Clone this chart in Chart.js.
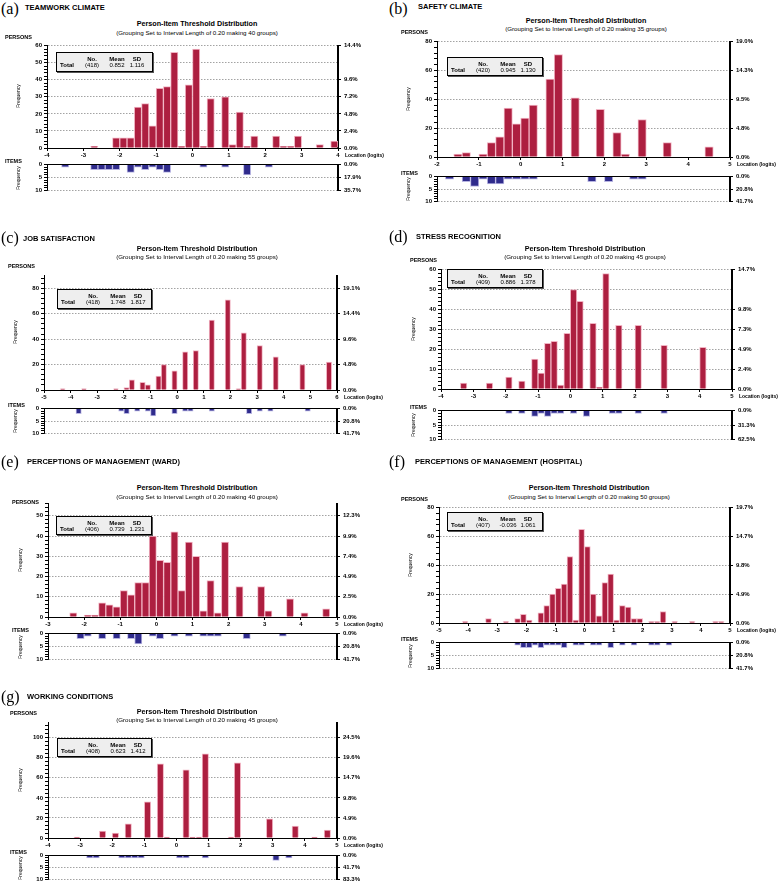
<!DOCTYPE html>
<html>
<head>
<meta charset="utf-8">
<script src="https://cdn.jsdelivr.net/npm/chart.js@4.4.1/dist/chart.umd.min.js"></script>
<style>
  body { margin: 0; background: #fff; }
  #fig { position: relative; width: 778px; height: 885px; overflow: hidden; font-family: "Liberation Sans", Arial, sans-serif; color: #000; }
  #fig canvas { position: absolute; }
  .t { position: absolute; white-space: nowrap; line-height: 1; }
  .tag { font-family: "Liberation Serif", serif; font-size: 16px; }
  .name { font-weight: bold; font-size: 7.5px; }
  .ttl { font-weight: bold; font-size: 7.2px; }
  .sub { font-size: 6.2px; }
  .lab { font-weight: bold; font-size: 5.5px; }
  .freq { font-size: 5px; }
  .loc { font-weight: bold; font-size: 5px; }
  .stat { position: absolute; border: 1px solid #000; background: #eeeeee; box-shadow: 1px 1px 0 #555; box-sizing: border-box; }
  .sh { font-weight: bold; font-size: 6px; }
  .sv { font-size: 6px; }
</style>
</head>
<body>
<div id="fig"></div>
<script>
// --- Data: bin centres (logits, 0.20 wide) and counts ---
const teamworkBins = [-2.7, -2.1, -1.9, -1.7, -1.5, -1.3, -1.1, -0.9, -0.7, -0.5, -0.3, -0.1, 0.1, 0.3, 0.5, 0.9, 1.1, 1.3, 1.5, 1.7, 2.3, 2.5, 2.7, 2.9, 3.5, 3.9];
const teamworkPersons = [1, 6, 6, 6, 24, 26, 13, 35, 36, 56, 1, 37, 58, 1, 29, 30, 2, 21, 1, 7, 7, 1, 1, 7, 2, 4];
const teamworkItemBins = [-3.5, -2.7, -2.5, -2.3, -2.1, -1.7, -1.5, -1.3, -1.1, -0.9, -0.7, 0.3, 0.9, 1.5, 2.1];
const teamworkItems = [1, 2, 2, 2, 2, 3, 1, 2, 1, 2, 3, 1, 1, 4, 1];

const safetyBins = [-1.5, -1.3, -0.9, -0.7, -0.5, -0.3, -0.1, 0.1, 0.3, 0.7, 0.9, 1.3, 1.9, 2.3, 2.5, 2.9, 3.5, 4.5];
const safetyPersons = [2, 3, 2, 10, 14, 34, 23, 27, 36, 54, 71, 41, 33, 17, 2, 26, 10, 7];
const safetyItemBins = [-1.7, -1.3, -1.1, -0.9, -0.7, -0.5, -0.3, -0.1, 0.1, 0.3, 1.7, 2.1, 2.7, 2.9];
const safetyItems = [1, 2, 4, 1, 3, 3, 1, 1, 1, 1, 2, 2, 1, 1];

const jobBins = [-4.3, -3.5, -2.3, -1.9, -1.7, -1.3, -1.1, -0.7, -0.5, -0.1, 0.3, 0.7, 1.3, 1.9, 2.3, 2.5, 3.1, 3.7, 4.7, 5.7];
const jobPersons = [1, 1, 1, 2, 8, 6, 4, 11, 20, 15, 30, 31, 55, 71, 1, 45, 35, 26, 20, 22];
const jobItemBins = [-3.7, -2.1, -1.9, -1.5, -1.1, -0.9, -0.1, 0.3, 0.5, 1.3, 2.7, 3.1, 3.5, 4.9];
const jobItems = [2, 1, 2, 1, 1, 3, 2, 1, 1, 1, 2, 1, 1, 1];

const stressBins = [-3.3, -2.5, -1.9, -1.5, -1.1, -0.9, -0.7, -0.5, -0.3, -0.1, 0.1, 0.3, 0.7, 0.9, 1.1, 1.5, 2.1, 2.9, 4.1];
const stressPersons = [3, 3, 6, 4, 15, 8, 23, 24, 2, 28, 50, 44, 33, 1, 58, 32, 32, 22, 21];
const stressItemBins = [-1.9, -1.5, -1.1, -0.9, -0.7, -0.5, -0.3, 0.1, 0.5, 1.3, 1.5, 2.1, 2.9];
const stressItems = [1, 1, 2, 1, 2, 1, 1, 1, 2, 1, 1, 1, 1];

const wardBins = [-2.3, -1.9, -1.7, -1.5, -1.3, -1.1, -0.9, -0.7, -0.5, -0.3, -0.1, 0.1, 0.3, 0.5, 0.7, 0.9, 1.1, 1.3, 1.5, 1.7, 1.9, 2.3, 2.9, 3.1, 3.7, 4.1, 4.7];
const wardPersons = [2, 1, 1, 7, 6, 5, 13, 11, 17, 17, 40, 28, 27, 42, 13, 37, 30, 3, 18, 2, 37, 15, 15, 3, 9, 2, 4];
const wardItemBins = [-2.1, -1.9, -1.5, -1.1, -0.7, -0.5, -0.1, 0.1, 0.5, 0.9, 1.3, 1.5, 1.7, 2.5, 3.5];
const wardItems = [2, 1, 2, 2, 2, 4, 1, 2, 1, 1, 1, 1, 1, 2, 1];

const hospitalBins = [-4.1, -3.3, -2.7, -2.3, -2.1, -1.9, -1.5, -1.3, -1.1, -0.9, -0.7, -0.5, -0.3, -0.1, 0.1, 0.3, 0.5, 0.7, 0.9, 1.1, 1.3, 1.5, 1.7, 1.9, 2.3, 2.5, 2.7, 3.1, 3.7, 4.5, 4.7];
const hospitalPersons = [1, 3, 1, 3, 6, 2, 7, 12, 20, 24, 27, 46, 2, 65, 53, 20, 5, 28, 34, 2, 12, 11, 3, 3, 1, 1, 8, 1, 1, 1, 1];
const hospitalItemBins = [-2.3, -2.1, -1.9, -1.7, -1.5, -1.3, -1.1, -0.9, -0.7, -0.3, -0.1, 0.3, 0.5, 0.9, 1.3, 1.7, 2.3, 2.5, 2.9];
const hospitalItems = [1, 2, 2, 1, 2, 1, 1, 1, 2, 1, 1, 1, 1, 2, 1, 1, 1, 1, 1];

const conditionsBins = [-3.1, -2.3, -1.9, -1.5, -0.9, -0.5, -0.3, 0.3, 0.5, 0.7, 0.9, 1.7, 1.9, 2.9, 3.7, 4.3, 4.7];
const conditionsPersons = [1, 7, 5, 14, 36, 74, 1, 68, 1, 1, 84, 1, 75, 19, 12, 1, 8];
const conditionsItemBins = [-2.7, -2.5, -1.7, -1.5, -1.3, -1.1, 0.1, 0.3, 0.9, 3.1, 3.5];
const conditionsItems = [1, 1, 1, 1, 1, 1, 1, 1, 1, 2, 1];

// --- Labels and axes ---
const panelTags = ['(a)', '(b)', '(c)', '(d)', '(e)', '(f)', '(g)'];
const panelNames = ['TEAMWORK CLIMATE', 'SAFETY CLIMATE', 'JOB SATISFACTION', 'STRESS RECOGNITION',
  'PERCEPTIONS OF MANAGEMENT (WARD)', 'PERCEPTIONS OF MANAGEMENT (HOSPITAL)', 'WORKING CONDITIONS'];
const groupCounts = [40, 35, 55, 45, 40, 50, 45];
const totalN = ['(418)', '(420)', '(418)', '(409)', '(406)', '(407)', '(408)'];
const means = ['0.852', '0.945', '1.748', '0.886', '0.739', '-0.036', '0.623'];
const sds = ['1.116', '1.130', '1.817', '1.378', '1.231', '1.061', '1.412'];
const xRanges = [[-4, 4], [-2, 5], [-5, 6], [-4, 5], [-3, 5], [-5, 5], [-4, 5]];
const personMax = [60, 80, 90, 60, 56, 80, 115];
const personMinor = [2, 4, 4, 2, 2, 4, 4];
const personTicks = [
  [0, 10, 20, 30, 40, 50, 60], [0, 20, 40, 60, 80], [0, 20, 40, 60, 80], [0, 10, 20, 30, 40, 50, 60],
  [0, 10, 20, 30, 40, 50], [0, 20, 40, 60, 80], [0, 20, 40, 60, 80, 100]
];
const pctTicks = [
  [0, 10, 20, 30, 40, 60], [0, 20, 40, 60, 80], [0, 20, 40, 60, 80], [0, 10, 20, 30, 40, 60],
  [0, 10, 20, 30, 40, 50], [0, 20, 40, 60, 80], [0, 20, 40, 60, 80, 100]
];
const pctLabels = [
  ['0.0%', '2.4%', '4.8%', '7.2%', '9.6%', '14.4%'],
  ['0.0%', '4.8%', '9.5%', '14.3%', '19.0%'],
  ['0.0%', '4.8%', '9.6%', '14.4%', '19.1%'],
  ['0.0%', '2.4%', '4.9%', '7.3%', '9.8%', '14.7%'],
  ['0.0%', '2.5%', '4.9%', '7.4%', '9.9%', '12.3%'],
  ['0.0%', '4.9%', '9.8%', '14.7%', '19.7%'],
  ['0.0%', '4.9%', '9.8%', '14.7%', '19.6%', '24.5%']
];
const itemTicks = [0, 5, 10];
const itemPctLabels = [
  ['0.0%', '17.9%', '35.7%'], ['0.0%', '20.8%', '41.7%'], ['0.0%', '20.8%', '41.7%'], ['0.0%', '31.3%', '62.5%'],
  ['0.0%', '20.8%', '41.7%'], ['0.0%', '20.8%', '41.7%'], ['0.0%', '41.7%', '83.3%']
];

const personBins = [teamworkBins, safetyBins, jobBins, stressBins, wardBins, hospitalBins, conditionsBins];
const personCounts = [teamworkPersons, safetyPersons, jobPersons, stressPersons, wardPersons, hospitalPersons, conditionsPersons];
const itemBins = [teamworkItemBins, safetyItemBins, jobItemBins, stressItemBins, wardItemBins, hospitalItemBins, conditionsItemBins];
const itemCounts = [teamworkItems, safetyItems, jobItems, stressItems, wardItems, hospitalItems, conditionsItems];

// --- Layout (page pixels) ---
// pl/pr: plot left/right, top/base: person axis max/zero, it/ib: item axis 0/10
const geo = [
  { pl: 47, pr: 338, top: 44, base: 148, it: 162, ib: 193, tagX: 1, tagY: 9, nameX: 25, nameY: 8, cx: 197, ty: 24, sy: 33, py: 38, lx: 5, fx: 18, box: [56, 52, 97, 20] },
  { pl: 437, pr: 730, top: 40, base: 157, it: 174, ib: 204, tagX: 389, tagY: 9, nameX: 418, nameY: 7, cx: 586, ty: 21, sy: 29, py: 33, lx: 401, fx: 408, box: [447, 57, 96, 19] },
  { pl: 44, pr: 337, top: 274, base: 390, it: 406, ib: 436, tagX: 1, tagY: 238, nameX: 23, nameY: 239, cx: 197, ty: 249, sy: 257, py: 267, lx: 8, fx: 15, box: [57, 289, 95, 20] },
  { pl: 441, pr: 732, top: 268, base: 389, it: 408, ib: 442, tagX: 389, tagY: 237, nameX: 416, nameY: 237, cx: 585, ty: 249, sy: 257, py: 261, lx: 410, fx: 413, box: [447, 269, 96, 19] },
  { pl: 48, pr: 337, top: 502, base: 617, it: 631, ib: 662, tagX: 1, tagY: 462, nameX: 27, nameY: 462, cx: 197, ty: 488, sy: 497, py: 503, lx: 12, fx: 20, box: [56, 516, 96, 19] },
  { pl: 439, pr: 730, top: 506, base: 623, it: 640, ib: 671, tagX: 389, tagY: 462, nameX: 415, nameY: 462, cx: 589, ty: 488, sy: 497, py: 500, lx: 401, fx: 410, box: [447, 512, 96, 19] },
  { pl: 48, pr: 337, top: 721, base: 838, it: 853, ib: 882, tagX: 1, tagY: 697, nameX: 27, nameY: 697, cx: 197, ty: 712, sy: 720, py: 714, lx: 10, fx: 20, box: [57, 738, 95, 19] }
];

const RED = '#ad1f40';
const PINK = '#f1b4c3';
const NAVY = '#2f2b8c';
const LILAC = '#b9b6e2';
const TICK_FONT = { family: 'Liberation Sans', size: 6, weight: 'bold' };
const L = 30, R = 42;

const fig = document.getElementById('fig');

function addText(str, x, y, cls, anchor) {
  const d = document.createElement('div');
  d.className = 't ' + cls;
  d.textContent = str;
  d.style.left = x + 'px';
  d.style.top = y + 'px';
  if (anchor === 'c') d.style.transform = 'translate(-50%, -50%)';
  else if (anchor === 'r') d.style.transform = 'translate(-50%, -50%) rotate(-90deg)';
  else d.style.transform = 'translateY(-50%)';
  fig.appendChild(d);
  return d;
}

function makeCanvas(x, y, w, h) {
  const c = document.createElement('canvas');
  c.width = w; c.height = h;
  c.style.left = x + 'px'; c.style.top = y + 'px';
  c.style.width = w + 'px'; c.style.height = h + 'px';
  fig.appendChild(c);
  return c;
}

function leftAxis(max, majors, minor, reverse) {
  return {
    type: 'linear', position: 'left', min: 0, max: max, reverse: !!reverse,
    afterBuildTicks: s => {
      const t = [];
      for (let v = 0; v <= max; v += minor) t.push({ value: v });
      s.ticks = t;
    },
    afterFit: s => { s.width = L; },
    ticks: { autoSkip: false, font: TICK_FONT, color: '#000', padding: 2,
      callback: v => majors.includes(v) ? String(v) : '' },
    grid: {
      lineWidth: 0.8, tickLength: 3, tickColor: '#000', tickWidth: 1,
      color: ctx => (ctx.tick && ctx.tick.value !== 0 && majors.includes(ctx.tick.value)) ? '#8c8c8c' : 'rgba(0,0,0,0)'
    },
    border: { color: '#000', width: 1, dash: [1.5, 1.5] }
  };
}

function rightAxis(max, vals, labels, reverse) {
  return {
    type: 'linear', axis: 'y', position: 'right', min: 0, max: max, reverse: !!reverse,
    afterBuildTicks: s => { s.ticks = vals.map(v => ({ value: v })); },
    afterFit: s => { s.width = R; },
    ticks: { autoSkip: false, font: TICK_FONT, color: '#000', padding: 3,
      callback: (v, i) => labels[i] },
    grid: { drawOnChartArea: false, tickLength: 3, tickColor: '#000' },
    border: { color: '#000', width: 2 }
  };
}

function barSet(bins, counts, fill, edge) {
  return {
    data: bins.map((b, k) => ({ x: b, y: counts[k] })),
    backgroundColor: fill, borderColor: edge, borderWidth: 1,
    barPercentage: 1, categoryPercentage: 1
  };
}

function drawPanel(i) {
  const g = geo[i];
  const w = g.pr - g.pl + L + R;

  // --- Person histogram ---
  const PT = 5, XH = 12;
  const pc = makeCanvas(g.pl - L, g.top - PT, w, g.base - g.top + PT + XH);
  new Chart(pc, {
    type: 'bar',
    data: { datasets: [barSet(personBins[i], personCounts[i], RED, PINK)] },
    options: {
      responsive: false, animation: false, events: [],
      layout: { padding: { top: PT, left: 0, right: 0, bottom: 0 } },
      plugins: { legend: { display: false }, tooltip: { enabled: false } },
      scales: {
        x: {
          type: 'linear', min: xRanges[i][0], max: xRanges[i][1], offset: false,
          afterFit: s => { s.height = XH; },
          ticks: { stepSize: 1, autoSkip: false, maxRotation: 0, font: TICK_FONT, color: '#000', padding: 1 },
          grid: { offset: false, drawOnChartArea: false, tickLength: 3, tickColor: '#000', color: '#000' },
          border: { color: '#000', width: 1 }
        },
        y: leftAxis(personMax[i], personTicks[i], personMinor[i], false),
        y2: rightAxis(personMax[i], pctTicks[i], pctLabels[i], false)
      }
    }
  });

  // --- Item histogram (hangs below the axis) ---
  const IT = 4, IB = 4;
  const ic = makeCanvas(g.pl - L, g.it - IT, w, g.ib - g.it + IT + IB);
  new Chart(ic, {
    type: 'bar',
    data: { datasets: [barSet(itemBins[i], itemCounts[i], NAVY, LILAC)] },
    options: {
      responsive: false, animation: false, events: [],
      layout: { padding: { top: IT, left: 0, right: 0, bottom: IB } },
      plugins: { legend: { display: false }, tooltip: { enabled: false } },
      scales: {
        x: {
          type: 'linear', position: 'top', min: xRanges[i][0], max: xRanges[i][1], offset: false,
          afterFit: s => { s.height = 0; },
          ticks: { display: false, stepSize: 1 },
          grid: { offset: false, drawOnChartArea: false, drawTicks: false },
          border: { color: '#000', width: 1 }
        },
        y: leftAxis(10, itemTicks, 1, true),
        y2: rightAxis(10, itemTicks, itemPctLabels[i], true)
      }
    }
  });

  // --- Text ---
  addText(panelTags[i], g.tagX, g.tagY, 'tag');
  addText(panelNames[i], g.nameX, g.nameY, 'name');
  addText('Person-Item Threshold Distribution', g.cx, g.ty, 'ttl', 'c');
  addText('(Grouping Set to Interval Length of 0.20 making ' + groupCounts[i] + ' groups)', g.cx, g.sy, 'sub', 'c');
  addText('PERSONS', g.lx, g.py, 'lab');
  addText('ITEMS', g.lx, g.it, 'lab');
  addText('Frequency', g.fx, (g.top + g.base) / 2, 'freq', 'r');
  addText('Frequency', g.fx, (g.it + g.ib) / 2, 'freq', 'r');
  addText('Location (logits)', g.pr + 7, g.base + 7, 'loc');

  // --- Summary box ---
  const [bx, by, bw, bh] = g.box;
  const box = document.createElement('div');
  box.className = 'stat';
  box.style.left = bx + 'px'; box.style.top = by + 'px';
  box.style.width = bw + 'px'; box.style.height = bh + 'px';
  fig.appendChild(box);
  addText('Total', bx + 11, by + 13, 'sh', 'c');
  addText('No.', bx + 36, by + 7, 'sh', 'c');
  addText(totalN[i], bx + 36, by + 13, 'sv', 'c');
  addText('Mean', bx + 61, by + 7, 'sh', 'c');
  addText(means[i], bx + 61, by + 13, 'sv', 'c');
  addText('SD', bx + 81, by + 7, 'sh', 'c');
  addText(sds[i], bx + 81, by + 13, 'sv', 'c');
}

for (let i = 0; i < geo.length; i++) drawPanel(i);
</script>
</body>
</html>
